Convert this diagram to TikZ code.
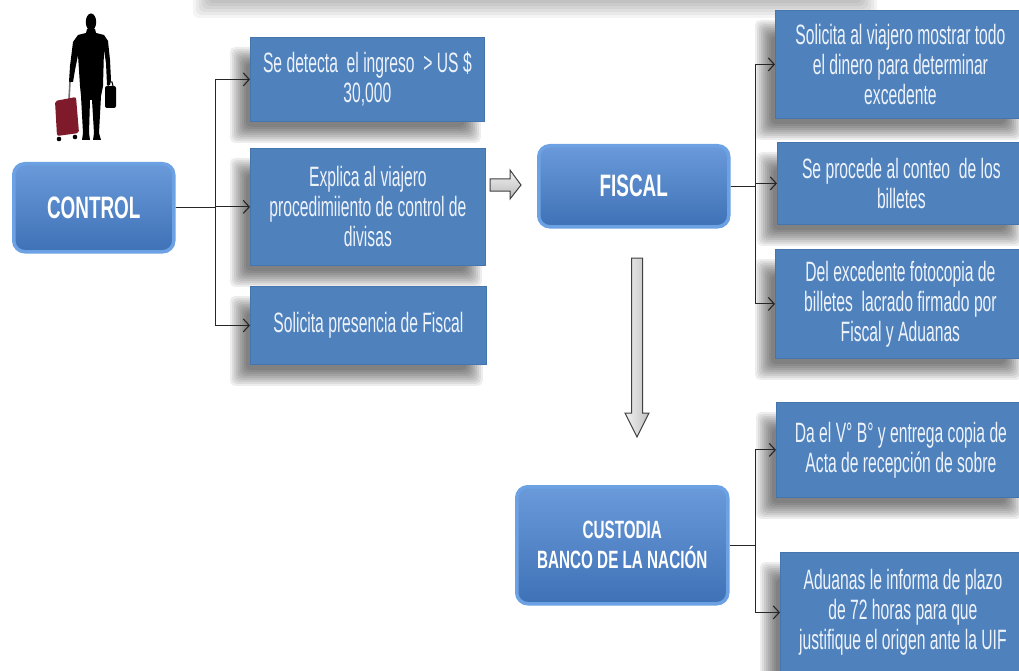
\documentclass[tikz,border=0pt]{standalone}
\usepackage{fontspec}
\setmainfont{Liberation Sans}[FakeStretch=0.56]
\newfontfamily\titlefont{Liberation Sans}[FakeStretch=0.61]
\usetikzlibrary{arrows.meta,calc}
\pgfdeclarelayer{background}
\pgfsetlayers{background,main}
\definecolor{boxblue}{HTML}{4F81BD}
\definecolor{boxedge}{HTML}{4675AE}
\definecolor{ttop}{HTML}{6A9ADA}
\definecolor{tbot}{HTML}{3E71B6}
\definecolor{tedge}{HTML}{6CA2E4}
\definecolor{suit}{HTML}{7E1A2A}
\definecolor{txt}{HTML}{EEF3FA}
\newcommand{\boxshadow}[1]{%
  \foreach \k in {0,...,8}{%
    \pgfmathsetmacro{\xa}{-12-(8-2*\k)}%
    \pgfmathsetmacro{\ya}{18-(8-2*\k)}%
    \pgfmathsetmacro{\xb}{-12+(8-2*\k)}%
    \pgfmathsetmacro{\yb}{13+(8-2*\k)}%
    \fill[black, opacity=0.07, rounded corners=5pt]
      ($(#1.north west)+(\xa,\ya)$) rectangle ($(#1.south east)+(\xb,\yb)$);
  }}
\begin{document}
\begin{tikzpicture}[x=1pt,y=-1pt,
  box/.style={draw=boxedge, line width=0.8pt, fill=boxblue, text=txt, align=center,
    anchor=north west, inner sep=2pt, font=\fontsize{28}{30}\selectfont},
  titlebox/.style={draw=tedge, line width=3.5pt, rounded corners=11pt, top color=ttop,
    bottom color=tbot, text=white, align=center, anchor=north west, inner sep=2pt},
  conn/.style={draw=black!85, line width=1.1pt, -{Straight Barb[length=6pt,width=13pt]}},
  blockarrow/.style={draw=black!75, line width=1pt}
]
\useasboundingbox (0,0) rectangle (1019,671);
\begin{pgfonlayer}{background}
\fill[white] (0,0) rectangle (1019,671);
% top shadow band
\foreach \k in {0,...,8}{%
  \pgfmathsetmacro{\rr}{12-3*\k}%
  \fill[black, opacity=0.045, rounded corners=6pt] (205-\rr,-40) rectangle (865+\rr,6+\rr);
}
\end{pgfonlayer}

% traveller silhouette
\fill[black] (91,22) ellipse (5.2 and 8.5);
\fill[black] (87,29) -- (95,29) -- (96,33) -- (104,35) -- (108,41) -- (110,60) -- (111,80)
  -- (110,85) -- (107,85) -- (106,63) -- (104,50) -- (103,86) -- (101,96) -- (99,133)
  -- (101,140) -- (93,140) -- (94,133) -- (92,100) -- (90,100) -- (89,133) -- (90,140)
  -- (82,140) -- (83,133) -- (81,96) -- (80,86) -- (78,55) -- (75,70) -- (73,82)
  -- (69,82) -- (70,66) -- (73,42) -- (78,35) -- (86,33) -- cycle;
\draw[black!55, line width=1.6pt] (70,82) -- (69,99);
\fill[suit, rounded corners=2pt] (55,101) -- (76,97) -- (79,133) -- (57,136) -- cycle;
\fill[black] (59,139) circle (2.3) (75,137) circle (2.3);
\fill[black, rounded corners=2pt] (105,86) rectangle (116,108);
\draw[black, line width=1pt] (108,86) -- (109,82) -- (112,82) -- (113,86);

% nodes
\node[titlebox, minimum width=160pt, minimum height=88pt, font=\titlefont\bfseries\fontsize{31}{30}\selectfont] (control) at (12,162) {CONTROL};
\node[box, minimum width=234pt, minimum height=84pt] (b1) at (250,37) {Se detecta\ \ el ingreso\ \ > US \$\\30,000};
\node[box, minimum width=235pt, minimum height=117pt] (b2) at (250,148) {Explica al viajero\\procedimiiento de control de\\divisas};
\node[box, minimum width=236pt, minimum height=78pt] (b3) at (250,286) {Solicita presencia de Fiscal};

\node[titlebox, minimum width=190pt, minimum height=81pt, font=\titlefont\bfseries\fontsize{31}{30}\selectfont] (fiscal) at (537,144) {FISCAL};
\node[box, minimum width=250pt, minimum height=108pt] (f1) at (775,10) {Solicita al viajero mostrar todo\\el dinero para determinar\\excedente};
\node[box, minimum width=248pt, minimum height=82pt] (f2) at (777,142) {Se procede al conteo\ \ de los\\billetes};
\node[box, minimum width=250pt, minimum height=109pt] (f3) at (775,249) {Del excedente fotocopia de\\billetes\ \ lacrado firmado por\\Fiscal y Aduanas};

\node[titlebox, minimum width=211pt, minimum height=117pt, font=\titlefont\bfseries\fontsize{25}{30}\selectfont] (custodia) at (515,485) {CUSTODIA\\BANCO DE LA NACIÓN};
\node[box, minimum width=249pt, minimum height=95pt] (c1) at (776,402) {Da el V° B° y entrega copia de\\Acta de recepción de sobre};
\node[box, minimum width=245pt, minimum height=120pt] (c2) at (780,552) {Aduanas le informa de plazo\\de 72 horas para que\\justifique el origen ante la UIF};

\begin{pgfonlayer}{background}
\boxshadow{b1}\boxshadow{b2}\boxshadow{b3}
\boxshadow{f1}\boxshadow{f2}\boxshadow{f3}
\boxshadow{c1}\boxshadow{c2}
\end{pgfonlayer}

% connectors
\draw[conn] (control.east) -- ++(40,0) |- (b1.west);
\draw[conn] (control.east) -- ++(40,0) |- (b2.west);
\draw[conn] (control.east) -- ++(40,0) |- (b3.west);
\draw[conn] (fiscal.east) -- ++(25,0) |- (f1.west);
\draw[conn] (fiscal.east) -- ++(25,0) |- (f2.west);
\draw[conn] (fiscal.east) -- ++(25,0) |- (f3.west);
\draw[conn] (custodia.east) -- ++(26,0) |- (c1.west);
\draw[conn] (custodia.east) -- ++(26,0) |- (c2.west);

% block arrows
\draw[blockarrow, top color=gray!10, bottom color=gray!55]
  (490,179) -- (510,179) -- (510,170) -- (521,185) -- (510,199) -- (510,191) -- (490,191) -- cycle;
\draw[blockarrow, left color=gray!10, right color=gray!50]
  (631.5,258) -- (642.5,258) -- (642.5,413) -- (649,413) -- (637,437) -- (625,413) -- (631.5,413) -- cycle;
\end{tikzpicture}
\end{document}
